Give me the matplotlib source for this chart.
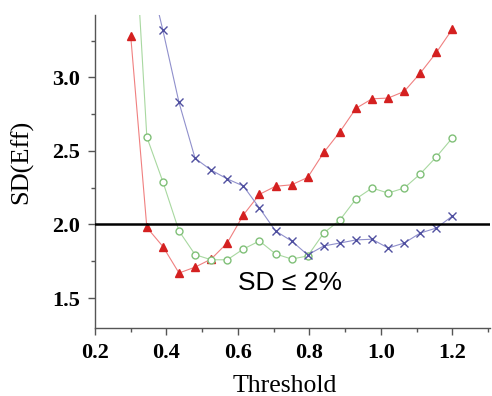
import numpy as np
import matplotlib
matplotlib.use("Agg")
import matplotlib.pyplot as plt
from matplotlib.ticker import MultipleLocator

# threshold values (step 0.045)
threshold = [0.3, 0.345, 0.39, 0.435, 0.48, 0.525, 0.57, 0.615, 0.66, 0.705, 0.75,
             0.795, 0.84, 0.885, 0.93, 0.975, 1.02, 1.065, 1.11, 1.155, 1.2]

sd_red = [3.28, 1.98, 1.85, 1.67, 1.71, 1.765, 1.875, 2.065, 2.205, 2.26, 2.27,
          2.32, 2.49, 2.63, 2.79, 2.855, 2.86, 2.905, 3.03, 3.17, 3.33]
sd_green = [4.49, 2.595, 2.29, 1.956, 1.795, 1.76, 1.76, 1.833, 1.888, 1.80, 1.765,
            1.786, 1.942, 2.03, 2.174, 2.248, 2.214, 2.248, 2.344, 2.46, 2.59]
sd_blue = [4.6, 3.78, 3.32, 2.83, 2.45, 2.37, 2.31, 2.262, 2.112, 1.956, 1.888,
           1.793, 1.854, 1.874, 1.895, 1.90, 1.84, 1.874, 1.942, 1.976, 2.058]

limit = 2.0

fig = plt.figure(figsize=(4.92, 3.96), dpi=100)
ax = fig.add_axes([95/492, 1-328/396, 395/492, 313/396])

ax.plot(threshold, sd_red, color="#f08080", lw=0.8, zorder=3)
ax.plot(threshold, sd_red, ls="none", marker="^", ms=6, color="#d42020",
        mec="#d42020", zorder=4)
ax.plot(threshold, sd_green, color="#a8d8a0", lw=0.8, zorder=3)
ax.plot(threshold, sd_green, ls="none", marker="o", ms=5, mfc="white",
        mec="#80c078", mew=1.0, zorder=4)
ax.plot(threshold, sd_blue, color="#9090cc", lw=0.8, zorder=3)
ax.plot(threshold, sd_blue, ls="none", marker="x", ms=6, color="#5050a0",
        mew=1.0, zorder=4)

ax.axhline(limit, color="black", lw=1.8, zorder=5)

ax.text(0.601, 1.555, "SD \u2264 2%", fontsize=19, family="Liberation Sans",
        ha="left", va="baseline")

ax.set_xlim(0.2, 1.305)
ax.set_ylim(1.296, 3.425)
ax.xaxis.set_major_locator(MultipleLocator(0.2))
ax.xaxis.set_minor_locator(MultipleLocator(0.1))
ax.yaxis.set_major_locator(MultipleLocator(0.5))
ax.yaxis.set_minor_locator(MultipleLocator(0.25))
ax.xaxis.set_major_formatter(matplotlib.ticker.FormatStrFormatter("%.1f"))
ax.yaxis.set_major_formatter(matplotlib.ticker.FormatStrFormatter("%.1f"))

for s in ["top", "right"]:
    ax.spines[s].set_visible(False)
for s in ["left", "bottom"]:
    ax.spines[s].set_color("#555555")
    ax.spines[s].set_linewidth(1.0)

ax.tick_params(which="major", direction="out", length=5, width=1, color="#555555")
ax.tick_params(which="minor", direction="out", length=3, width=1, color="#555555")
ax.tick_params(axis="y", which="major", pad=6)
ax.tick_params(axis="x", which="major", pad=6)
for lab in ax.get_xticklabels() + ax.get_yticklabels():
    lab.set_family("Liberation Serif")
    lab.set_fontweight("bold")
    lab.set_fontsize(16)

fig.text(285/492, 1-386/396, "Threshold", family="Liberation Serif", fontsize=18.5,
         ha="center", va="center")
fig.text(22/492, 1-162/396, "SD(Eff)", family="Liberation Serif", fontsize=19,
         ha="center", va="center", rotation=90)

fig.savefig("out.png", dpi=100)
